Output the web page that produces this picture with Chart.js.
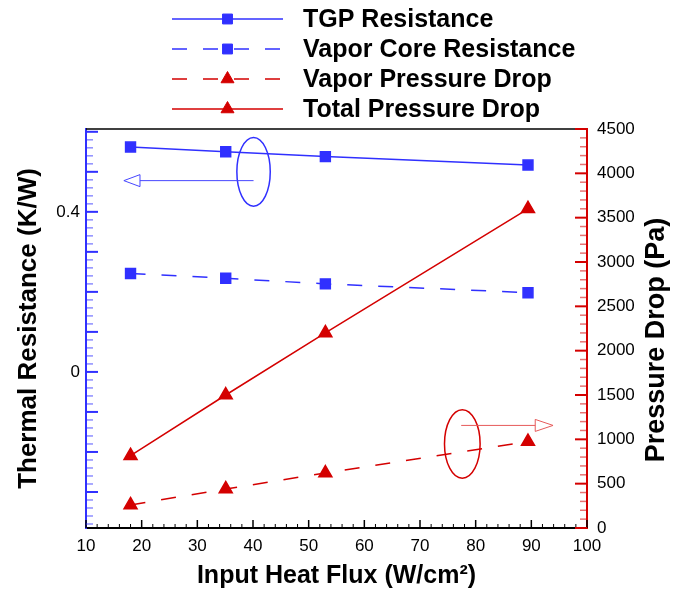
<!DOCTYPE html>
<html>
<head>
<meta charset="utf-8">
<script src="https://cdn.jsdelivr.net/npm/chart.js@4.4.1/dist/chart.umd.min.js"></script>
<style>
  html, body { margin: 0; padding: 0; background: #fff; }
</style>
</head>
<body>
<canvas id="graficoFlujo" width="673" height="594"></canvas>
<script>
// datos
const flujoCalor = [18, 35.1, 53, 89.4];
const resistenciaTGP = [0.562, 0.550, 0.538, 0.517];
const resistenciaVapor = [0.246, 0.234, 0.220, 0.198];
const caidaPresionVapor = [260, 440, 620, 975];
const caidaPresionTotal = [815, 1500, 2200, 3600];

const nombresSeries = ['TGP Resistance', 'Vapor Core Resistance', 'Vapor Pressure Drop', 'Total Pressure Drop'];
const etiquetasIzq = [0, 0.4];

const azul = 'rgb(48, 48, 255)';
const rojo = 'rgb(212, 0, 0)';
const fuente = "'Liberation Sans', Arial, sans-serif";

Chart.defaults.font.family = fuente;
Chart.defaults.color = '#000';

const puntos = (ys) => flujoCalor.map((x, i) => ({ x: x, y: ys[i] }));

// marcas hacia adentro en los tres ejes
const marcasEjes = {
    id: 'marcasEjes',
    afterDraw(chart) {
        const { ctx, chartArea: a, scales } = chart;
        ctx.save();
        // borde superior
        ctx.strokeStyle = '#000';
        ctx.lineWidth = 1.5;
        ctx.beginPath();
        ctx.moveTo(a.left, a.top);
        ctx.lineTo(a.right, a.top);
        ctx.stroke();

        const linea = (x1, y1, x2, y2, color, ancho) => {
            ctx.strokeStyle = color;
            ctx.lineWidth = ancho;
            ctx.beginPath();
            ctx.moveTo(x1, y1);
            ctx.lineTo(x2, y2);
            ctx.stroke();
        };

        for (let k = 5; k <= 50; k++) {
            const px = scales.x.getPixelForValue(k * 2);
            const mayor = k % 5 === 0;
            linea(px, a.bottom, px, a.bottom - (mayor ? 8 : 4), '#000', mayor ? 1.5 : 1);
        }
        for (let k = -19; k <= 30; k++) {
            const py = scales.y.getPixelForValue(k * 0.02);
            const mayor = k % 5 === 0;
            linea(a.left, py, a.left + (mayor ? 12 : 7), py, mayor ? azul : 'rgba(48,48,255,0.55)', mayor ? 2 : 1.5);
        }
        for (let k = 0; k <= 45; k++) {
            const py = scales.y2.getPixelForValue(k * 100);
            const mayor = k % 5 === 0;
            linea(a.right, py, a.right - (mayor ? 12 : 7), py, mayor ? rojo : 'rgba(212,0,0,0.55)', mayor ? 2 : 1.5);
        }
        ctx.restore();
    }
};

// elipses y flechas que indican el eje de cada grupo
const indicadores = {
    id: 'indicadores',
    afterDatasetsDraw(chart) {
        const { ctx, scales: { x, y, y2 } } = chart;
        const dibujar = (escala, cx, cy, rx, ry, yFlecha, xIni, xBase, xPunta, colorElipse, colorFlecha) => {
            const px = x.getPixelForValue(cx);
            const py = escala.getPixelForValue(cy);
            const rpx = Math.abs(x.getPixelForValue(cx + rx) - px);
            const rpy = Math.abs(escala.getPixelForValue(cy + ry) - py);
            ctx.strokeStyle = colorElipse;
            ctx.lineWidth = 1.5;
            ctx.beginPath();
            ctx.ellipse(px, py, rpx, rpy, 0, 0, Math.PI * 2);
            ctx.stroke();
            const fy = escala.getPixelForValue(yFlecha);
            const x1 = x.getPixelForValue(xIni);
            const xb = x.getPixelForValue(xBase);
            const xp = x.getPixelForValue(xPunta);
            ctx.strokeStyle = colorFlecha;
            ctx.lineWidth = 1;
            ctx.beginPath();
            ctx.moveTo(x1, fy);
            ctx.lineTo(xb, fy);
            ctx.stroke();
            ctx.beginPath();
            ctx.moveTo(xb, fy - 6);
            ctx.lineTo(xp, fy);
            ctx.lineTo(xb, fy + 6);
            ctx.closePath();
            ctx.stroke();
        };
        ctx.save();
        dibujar(y, 40.1, 0.5, 3.0, 0.086, 0.478, 40.1, 19.7, 16.8, azul, 'rgb(70, 70, 255)');
        dibujar(y2, 77.6, 948, 3.2, 387, 1157, 77.4, 90.7, 93.9, rojo, 'rgb(230, 90, 90)');
        ctx.restore();
    }
};

// leyenda con linea larga y marcador al centro
const leyendaLineas = {
    id: 'leyendaLineas',
    afterDraw(chart) {
        const { ctx } = chart;
        const filas = [19, 49, 79, 109];
        ctx.save();
        chart.data.datasets.forEach((ds, i) => {
            const yy = filas[i];
            ctx.strokeStyle = ds.borderColor;
            ctx.lineWidth = 1.5;
            ctx.setLineDash(ds.borderDash || []);
            ctx.beginPath();
            ctx.moveTo(172, yy);
            ctx.lineTo(283, yy);
            ctx.stroke();
            ctx.setLineDash([]);
            ctx.fillStyle = ds.pointBackgroundColor;
            ctx.strokeStyle = ds.pointBorderColor;
            ctx.lineWidth = 1;
            Chart.helpers.drawPoint(ctx, { pointStyle: ds.pointStyle, radius: ds.pointRadius, borderWidth: 1 }, 227.5, yy);
            ctx.fillStyle = '#000';
            ctx.font = 'bold 25px ' + fuente;
            ctx.textBaseline = 'middle';
            ctx.textAlign = 'left';
            ctx.fillText(ds.label, 303, yy + 1);
        });
        // titulo del eje derecho, leido de abajo hacia arriba
        ctx.translate(657, 340);
        ctx.rotate(-Math.PI / 2);
        ctx.textAlign = 'center';
        ctx.textBaseline = 'middle';
        ctx.font = 'bold 27px ' + fuente;
        ctx.fillText('Pressure Drop (Pa)', 0, 0);
        ctx.restore();
    }
};

const grafico = new Chart(document.getElementById('graficoFlujo'), {
    type: 'line',
    data: {
        datasets: [
            {
                label: nombresSeries[0],
                data: puntos(resistenciaTGP),
                yAxisID: 'y',
                borderColor: azul,
                pointBackgroundColor: azul,
                pointBorderColor: azul,
                pointStyle: 'rect',
                pointRadius: 7,
                borderWidth: 1.5
            },
            {
                label: nombresSeries[1],
                data: puntos(resistenciaVapor),
                yAxisID: 'y',
                borderColor: azul,
                borderDash: [15, 16],
                pointBackgroundColor: azul,
                pointBorderColor: azul,
                pointStyle: 'rect',
                pointRadius: 7,
                borderWidth: 1.5
            },
            {
                label: nombresSeries[2],
                data: puntos(caidaPresionVapor),
                yAxisID: 'y2',
                borderColor: rojo,
                borderDash: [15, 16],
                pointBackgroundColor: rojo,
                pointBorderColor: rojo,
                pointStyle: 'triangle',
                pointRadius: 7.5,
                borderWidth: 1.5
            },
            {
                label: nombresSeries[3],
                data: puntos(caidaPresionTotal),
                yAxisID: 'y2',
                borderColor: rojo,
                pointBackgroundColor: rojo,
                pointBorderColor: rojo,
                pointStyle: 'triangle',
                pointRadius: 7.5,
                borderWidth: 1.5
            }
        ]
    },
    options: {
        responsive: false,
        animation: false,
        layout: { padding: { top: 129, left: 0, right: 0, bottom: 0 } },
        plugins: {
            legend: { display: false },
            tooltip: { enabled: false }
        },
        scales: {
            x: {
                type: 'linear',
                min: 10,
                max: 100,
                grid: { display: false, drawTicks: false },
                border: { display: true, color: '#000', width: 2 },
                ticks: { stepSize: 10, padding: 8, font: { size: 17 }, maxRotation: 0 },
                title: { display: true, text: 'Input Heat Flux (W/cm²)', font: { size: 25, weight: 'bold' }, padding: { top: 0, bottom: 3 } },
                afterFit: (s) => { s.height = 66; }
            },
            y: {
                position: 'left',
                min: -0.39,
                max: 0.607,
                grid: { display: false, drawTicks: false },
                border: { display: true, color: azul, width: 2 },
                ticks: { padding: 6, font: { size: 17 } },
                afterBuildTicks: (s) => { s.ticks = etiquetasIzq.map(v => ({ value: v })); },
                title: { display: true, text: 'Thermal Resistance (K/W)', font: { size: 26, weight: 'bold' }, padding: { top: 13, bottom: 0 } },
                afterFit: (s) => { s.width = 86; }
            },
            y2: {
                position: 'right',
                min: 0,
                max: 4500,
                grid: { display: false, drawTicks: false },
                border: { display: true, color: rojo, width: 2 },
                ticks: { stepSize: 500, padding: 10, font: { size: 17 }, callback: (v) => String(v) },
                afterFit: (s) => { s.width = 86; }
            }
        }
    },
    plugins: [marcasEjes, indicadores, leyendaLineas]
});
</script>
</body>
</html>
